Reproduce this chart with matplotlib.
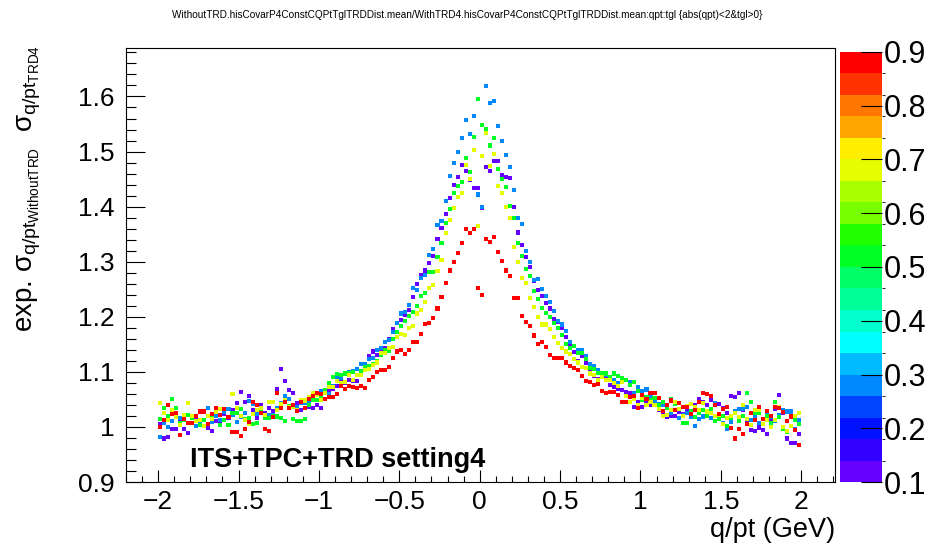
import numpy as np
import matplotlib
matplotlib.use('Agg')
import matplotlib.pyplot as plt
from matplotlib.colors import ListedColormap, BoundaryNorm
from matplotlib.ticker import MultipleLocator, FuncFormatter

plt.rcParams['font.family'] = ['Liberation Sans', 'DejaVu Sans']
plt.rcParams['mathtext.fontset'] = 'custom'
plt.rcParams['mathtext.rm'] = 'Liberation Sans'
plt.rcParams['mathtext.it'] = 'Liberation Sans'
plt.rcParams['mathtext.bf'] = 'Liberation Sans:bold'

# ratio WithoutTRD / WithTRD4 in bins of q/pt (width 0.025), one list per tgl bin
tgl_values = [0.12, 0.28, 0.52, 0.68, 0.88]

ratio_tgl012 = [
    1.005, 0.979, 0.981, 0.997, 0.997, 1.010, 0.997, 0.989, 1.008, 1.018,
    1.003, 1.012, 0.999, 0.993, 1.010, 1.005, 1.024, 1.016, 1.031, 1.043,
    1.063, 1.046, 1.057, 1.030, 1.016, 1.040, 1.025, 1.034, 1.028, 1.069,
    1.106, 1.083, 1.067, 1.061, 1.043, 1.030, 1.015, 1.037, 1.034, 1.040,
    1.034, 1.050, 1.065, 1.069, 1.075, 1.083, 1.080, 1.086, 1.084, 1.084,
    1.096, 1.109, 1.129, 1.137, 1.130, 1.141, 1.143, 1.160, 1.178, 1.189,
    1.195, 1.204, 1.213, 1.236, 1.259, 1.275, 1.284, 1.297, 1.311, 1.341,
    1.361, 1.386, 1.415, 1.440, 1.453, 1.475, 1.464, 1.449, 1.433, 1.433,
    1.397, 1.472, 1.464, 1.483, 1.483, 1.458, 1.454, 1.452, 1.400, 1.353,
    1.330, 1.309, 1.291, 1.265, 1.248, 1.238, 1.225, 1.215, 1.196, 1.190,
    1.179, 1.163, 1.150, 1.136, 1.120, 1.129, 1.117, 1.101, 1.092, 1.087,
    1.098, 1.088, 1.076, 1.073, 1.069, 1.067, 1.064, 1.062, 1.037, 1.045,
    1.036, 1.044, 1.040, 1.044, 1.030, 1.022, 1.019, 1.020, 1.020, 1.028,
    1.024, 1.030, 1.026, 1.040, 1.050, 1.045, 1.040, 1.049, 1.042, 1.042,
    1.035, 1.026, 1.057, 1.055, 1.062, 1.030, 1.013, 0.994, 0.993, 0.999,
    0.994, 0.988, 1.010, 1.032, 1.058, 1.026, 0.979, 0.971, 0.971, 0.988,
]

ratio_tgl028 = [
    0.981, 1.008, 1.000, 1.011, 1.020, 1.017, 1.013, 1.008, 1.016, 1.002,
    1.008, 1.013, 1.035, 1.009, 1.020, 1.013, 1.028, 1.032, 1.022, 1.009,
    1.018, 1.025, 1.047, 1.042, 1.023, 1.030, 1.022, 1.022, 1.022, 1.035,
    1.044, 1.056, 1.051, 1.040, 1.037, 1.044, 1.044, 1.048, 1.053, 1.058,
    1.066, 1.062, 1.060, 1.075, 1.089, 1.089, 1.098, 1.099, 1.102, 1.106,
    1.114, 1.115, 1.123, 1.126, 1.140, 1.144, 1.155, 1.157, 1.172, 1.188,
    1.206, 1.209, 1.221, 1.252, 1.248, 1.271, 1.276, 1.313, 1.323, 1.366,
    1.374, 1.410, 1.455, 1.479, 1.499, 1.524, 1.558, 1.532, 1.564, 1.422,
    1.400, 1.619, 1.589, 1.591, 1.547, 1.519, 1.493, 1.472, 1.431, 1.379,
    1.369, 1.320, 1.300, 1.267, 1.268, 1.251, 1.238, 1.227, 1.211, 1.193,
    1.186, 1.175, 1.154, 1.147, 1.140, 1.139, 1.128, 1.114, 1.110, 1.103,
    1.098, 1.094, 1.089, 1.085, 1.079, 1.083, 1.086, 1.081, 1.061, 1.072,
    1.066, 1.068, 1.055, 1.046, 1.042, 1.040, 1.036, 1.026, 1.030, 1.016,
    1.021, 1.025, 1.019, 1.002, 1.014, 1.019, 1.024, 1.017, 1.044, 1.016,
    1.008, 0.996, 1.009, 1.028, 1.032, 1.032, 1.036, 1.013, 1.020, 1.008,
    1.014, 1.026, 1.018, 1.010, 1.022, 1.030, 1.028, 1.028, 0.996, 1.013,
]

ratio_tgl052 = [
    1.015, 1.034, 1.020, 1.050, 1.034, 1.008, 1.012, 1.022, 1.016, 1.010,
    1.004, 1.013, 1.006, 1.018, 1.027, 1.004, 1.012, 1.004, 1.025, 1.026,
    1.032, 1.015, 1.016, 1.005, 1.007, 1.030, 1.017, 1.017, 1.019, 1.019,
    1.017, 1.011, 1.038, 1.015, 1.011, 1.010, 1.015, 1.040, 1.049, 1.049,
    1.054, 1.067, 1.080, 1.090, 1.096, 1.094, 1.097, 1.098, 1.099, 1.094,
    1.102, 1.108, 1.111, 1.115, 1.120, 1.130, 1.140, 1.138, 1.160, 1.172,
    1.183, 1.193, 1.201, 1.209, 1.219, 1.237, 1.244, 1.282, 1.282, 1.309,
    1.334, 1.370, 1.395, 1.424, 1.437, 1.444, 1.488, 1.463, 1.527, 1.595,
    1.548, 1.540, 1.511, 1.524, 1.469, 1.451, 1.435, 1.401, 1.379, 1.334,
    1.310, 1.287, 1.274, 1.246, 1.233, 1.216, 1.207, 1.199, 1.189, 1.179,
    1.167, 1.150, 1.143, 1.147, 1.135, 1.135, 1.124, 1.107, 1.105, 1.098,
    1.097, 1.097, 1.090, 1.097, 1.093, 1.088, 1.085, 1.076, 1.082, 1.066,
    1.049, 1.055, 1.048, 1.052, 1.040, 1.046, 1.035, 1.051, 1.041, 1.032,
    1.007, 1.007, 1.028, 1.018, 1.025, 1.030, 1.020, 1.032, 1.010, 1.015,
    1.020, 1.002, 1.016, 1.025, 1.010, 1.020, 1.062, 1.046, 1.026, 1.026,
    1.014, 1.020, 1.008, 1.046, 1.018, 0.996, 0.991, 1.002, 1.013, 1.005,
]

ratio_tgl068 = [
    1.043, 1.025, 1.012, 1.030, 1.018, 1.004, 1.022, 1.043, 1.020, 1.010,
    1.013, 1.002, 1.020, 1.015, 1.028, 1.032, 1.032, 1.018, 1.059, 1.035,
    1.020, 1.013, 1.005, 1.024, 1.030, 1.034, 1.022, 1.045, 1.045, 1.030,
    1.042, 1.048, 1.037, 1.037, 1.031, 1.049, 1.048, 1.055, 1.061, 1.058,
    1.049, 1.062, 1.073, 1.073, 1.083, 1.080, 1.081, 1.094, 1.086, 1.094,
    1.095, 1.103, 1.105, 1.113, 1.117, 1.135, 1.135, 1.144, 1.146, 1.164,
    1.169, 1.167, 1.179, 1.183, 1.206, 1.213, 1.227, 1.253, 1.258, 1.283,
    1.303, 1.352, 1.375, 1.397, 1.417, 1.424, 1.475, 1.451, 1.502, 1.365,
    1.492, 1.534, 1.474, 1.495, 1.438, 1.424, 1.400, 1.379, 1.327, 1.300,
    1.270, 1.261, 1.234, 1.218, 1.200, 1.186, 1.186, 1.178, 1.163, 1.152,
    1.144, 1.137, 1.133, 1.124, 1.117, 1.109, 1.107, 1.097, 1.094, 1.086,
    1.091, 1.085, 1.085, 1.079, 1.075, 1.081, 1.057, 1.046, 1.051, 1.040,
    1.052, 1.040, 1.045, 1.040, 1.032, 1.020, 1.022, 1.030, 1.045, 1.033,
    1.020, 1.038, 1.041, 1.037, 1.030, 1.043, 1.028, 1.025, 1.020, 1.022,
    1.006, 1.016, 1.020, 1.025, 1.018, 1.040, 1.015, 1.003, 1.031, 1.030,
    1.005, 1.012, 1.000, 1.013, 1.036, 1.000, 0.992, 1.001, 1.020, 1.026,
]

ratio_tgl088 = [
    1.000, 1.012, 1.040, 1.023, 1.025, 0.985, 1.015, 1.008, 1.008, 1.020,
    1.028, 1.028, 1.005, 1.024, 1.034, 1.022, 1.032, 1.018, 0.991, 0.991,
    0.983, 0.996, 1.009, 1.045, 1.040, 1.026, 0.997, 0.993, 1.018, 1.062,
    1.034, 1.045, 1.034, 1.040, 1.029, 1.046, 1.035, 1.050, 1.057, 1.061,
    1.059, 1.050, 1.055, 1.055, 1.059, 1.074, 1.069, 1.074, 1.073, 1.070,
    1.075, 1.071, 1.086, 1.091, 1.099, 1.103, 1.103, 1.108, 1.126, 1.137,
    1.140, 1.133, 1.139, 1.154, 1.154, 1.169, 1.187, 1.189, 1.198, 1.215,
    1.236, 1.262, 1.284, 1.299, 1.316, 1.334, 1.360, 1.352, 1.359, 1.253,
    1.239, 1.341, 1.336, 1.344, 1.317, 1.302, 1.284, 1.274, 1.234, 1.234,
    1.201, 1.190, 1.184, 1.166, 1.150, 1.155, 1.145, 1.130, 1.125, 1.125,
    1.125, 1.117, 1.111, 1.107, 1.103, 1.092, 1.083, 1.081, 1.076, 1.078,
    1.066, 1.062, 1.064, 1.064, 1.058, 1.045, 1.046, 1.054, 1.057, 1.034,
    1.058, 1.050, 1.062, 1.061, 1.053, 1.029, 1.040, 1.048, 1.030, 1.044,
    1.037, 1.037, 1.023, 1.030, 1.045, 1.062, 1.060, 1.056, 1.040, 1.023,
    1.032, 1.037, 0.998, 0.979, 0.997, 0.988, 1.005, 1.025, 1.012, 1.037,
    1.014, 1.029, 1.020, 1.037, 1.034, 1.027, 1.010, 1.019, 0.994, 0.967,
]

series = [ratio_tgl012, ratio_tgl028, ratio_tgl052, ratio_tgl068, ratio_tgl088]

# q/pt bin centres: 160 bins of 0.025 between -2 and 2
qpt_centres = np.linspace(-1.9875, 1.9875, 160)

# ROOT rainbow palette, 20 levels between 0.1 and 0.9
palette = ['#6600ff', '#3300ff', '#0011ff', '#0044ff', '#0088ff',
           '#00bbff', '#00ffff', '#00ffcc', '#00ff99', '#00ff66',
           '#00ff22', '#22ff00', '#77ff00', '#aaff00', '#e6ff00',
           '#ffee00', '#ffa500', '#ff7700', '#ff3300', '#ff0000']
cmap = ListedColormap(palette)
norm = BoundaryNorm(np.linspace(0.1, 0.9, 21), cmap.N)

fig = plt.figure(figsize=(9.32, 5.43), dpi=100)
ax = fig.add_axes([0.1352, 0.1123, 0.7607, 0.7993])

for tgl, vals in zip(tgl_values, series):
    sc = ax.scatter(qpt_centres, vals, c=[tgl] * len(vals), cmap=cmap, norm=norm,
                    marker='s', s=8.5, linewidths=0)

ax.set_xlim(-2.2, 2.21)
ax.set_ylim(0.9, 1.688)
ax.xaxis.set_major_locator(MultipleLocator(0.5))
ax.xaxis.set_minor_locator(MultipleLocator(0.1))
ax.xaxis.set_major_formatter(FuncFormatter(lambda v, p: f'{v:g}'.replace('-', '\u2212')))
ax.yaxis.set_minor_locator(MultipleLocator(0.02))
ax.set_yticks([0.9, 1.0, 1.1, 1.2, 1.3, 1.4, 1.5, 1.6])
ax.set_yticklabels(['0.9', '1', '1.1', '1.2', '1.3', '1.4', '1.5', '1.6'])
ax.tick_params(axis='both', which='both', direction='in', top=False, right=False,
               labelsize=19, width=0.8)
ax.tick_params(axis='x', which='major', length=9, pad=6)
ax.tick_params(axis='x', which='minor', length=4.5)
ax.tick_params(axis='y', which='major', length=14, pad=8)
ax.tick_params(axis='y', which='minor', length=7)
for sp in ax.spines.values():
    sp.set_linewidth(0.8)

fig.text(0.896, 0.0, 'q/pt (GeV)', fontsize=19.5, ha='right', va='bottom')
fig.text(0.032, 0.918, r'exp. $\sigma_{q/pt_{WithoutTRD}}$  $\sigma_{q/pt_{TRD4}}$',
         fontsize=20, rotation=90, ha='center', va='top')

ax.text(0.09, 0.035, 'ITS+TPC+TRD setting4', transform=ax.transAxes,
        fontsize=19.5, fontweight='bold', ha='left', va='baseline')

fig.text(0.501, 0.972,
         'WithoutTRD.hisCovarP4ConstCQPtTglTRDDist.mean/WithTRD4.hisCovarP4ConstCQPtTglTRDDist.mean:qpt:tgl {abs(qpt)<2&tgl>0}',
         fontsize=7.2, ha='center', va='center')

cax = fig.add_axes([0.9013, 0.1123, 0.0451, 0.792])
cb = fig.colorbar(sc, cax=cax, ticks=[0.1, 0.2, 0.3, 0.4, 0.5, 0.6, 0.7, 0.8, 0.9])
cb.outline.set_visible(False)
cb.ax.tick_params(direction='in', length=15, width=0.8, labelsize=22, pad=1)
cb.ax.set_yticklabels(['0.1', '0.2', '0.3', '0.4', '0.5', '0.6', '0.7', '0.8', '0.9'])

fig.savefig('out.png', dpi=100)
